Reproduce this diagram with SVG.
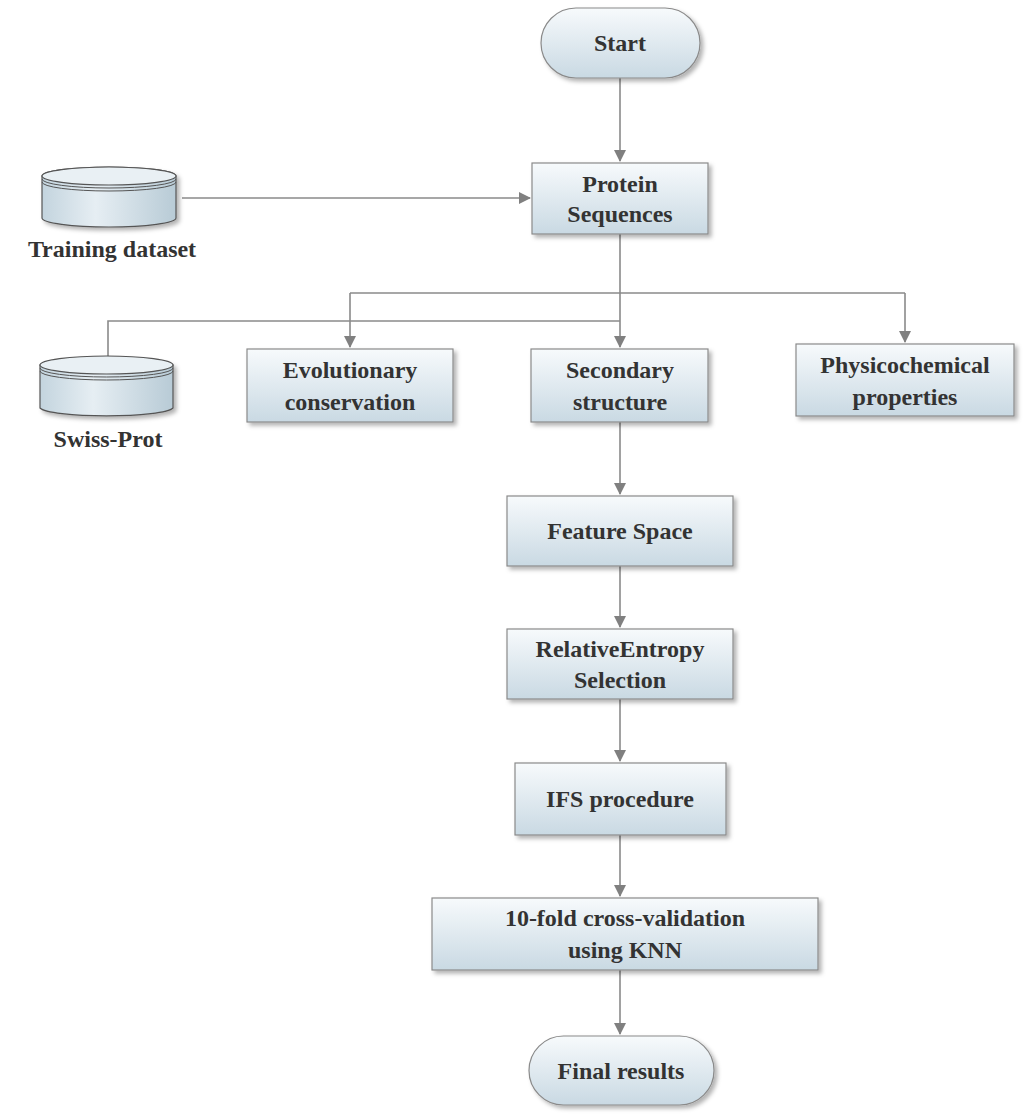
<svg xmlns="http://www.w3.org/2000/svg" width="1024" height="1119" viewBox="0 0 1024 1119">
<defs>
<linearGradient id="g" x1="0" y1="0" x2="0" y2="1"><stop offset="0" stop-color="#f7fafc"/><stop offset="1" stop-color="#c9d9e3"/></linearGradient>
<linearGradient id="cy" x1="0" y1="0" x2="1" y2="0"><stop offset="0" stop-color="#c3d4de"/><stop offset="0.4" stop-color="#e6eef3"/><stop offset="1" stop-color="#b8cbd6"/></linearGradient>
<filter id="sh" x="-10%" y="-10%" width="130%" height="130%"><feDropShadow dx="3" dy="3" stdDeviation="2" flood-color="#000" flood-opacity="0.3"/></filter>
<marker id="a" markerWidth="12" markerHeight="12" refX="11" refY="6" orient="auto" markerUnits="userSpaceOnUse"><path d="M0,0 L12,6 L0,12 z" fill="#808080"/></marker>
<style>
.n{fill:url(#g);stroke:#8a8a8a;stroke-width:1.2;filter:url(#sh)}
.t{font-family:"Liberation Serif",serif;font-weight:bold;font-size:24px;fill:#333;text-anchor:middle}
.c{fill:none;stroke:#8a8a8a;stroke-width:1.6}
.cyl{fill:url(#cy);stroke:#555;stroke-width:1.2;filter:url(#sh)}
</style>
</defs>
<g id="connectors">
<path class="c" d="M620,78 V161" marker-end="url(#a)"/>
<path class="c" d="M182,198 H530" marker-end="url(#a)"/>
<path class="c" d="M620,234 V293"/>
<path class="c" d="M350,293 H905"/>
<path class="c" d="M350,293 V347" marker-end="url(#a)"/>
<path class="c" d="M620,293 V347" marker-end="url(#a)"/>
<path class="c" d="M905,293 V342" marker-end="url(#a)"/>
<path class="c" d="M108,357 V321 H620"/>
<path class="c" d="M620,422 V494" marker-end="url(#a)"/>
<path class="c" d="M620,566 V627" marker-end="url(#a)"/>
<path class="c" d="M620,699 V761" marker-end="url(#a)"/>
<path class="c" d="M620,835 V896" marker-end="url(#a)"/>
<path class="c" d="M620,970 V1034" marker-end="url(#a)"/>
</g>
<g id="start"><rect class="n" x="541" y="8" width="159" height="70" rx="35"/><text class="t" x="620" y="51">Start</text></g>
<g id="training"><path class="cyl" d="M42,176 V218 A67,9 0 0 0 176,218 V176 A67,9 0 0 0 42,176 z"/><ellipse cx="109" cy="176" rx="67" ry="9" fill="#e9f0f4" stroke="#555" stroke-width="1.2"/><path d="M42,179 A67,9 0 0 0 176,179 M42,182 A67,9 0 0 0 176,182" fill="none" stroke="#555" stroke-width="1"/><text class="t" x="112" y="257">Training dataset</text></g>
<g id="protein"><rect class="n" x="532" y="163" width="176" height="71"/><text class="t" x="620" y="192">Protein</text><text class="t" x="620" y="222">Sequences</text></g>
<g id="swiss"><path class="cyl" d="M40,365 V408 A67,9 0 0 0 173,408 V365 A67,9 0 0 0 40,365 z"/><ellipse cx="106.5" cy="365" rx="66.5" ry="9" fill="#e9f0f4" stroke="#555" stroke-width="1.2"/><path d="M40,368 A66.5,9 0 0 0 173,368 M40,371 A66.5,9 0 0 0 173,371" fill="none" stroke="#555" stroke-width="1"/><text class="t" x="108" y="447">Swiss-Prot</text></g>
<g id="evo"><rect class="n" x="247" y="349" width="206" height="73"/><text class="t" x="350" y="378">Evolutionary</text><text class="t" x="350" y="410">conservation</text></g>
<g id="sec"><rect class="n" x="531" y="349" width="177" height="73"/><text class="t" x="620" y="378">Secondary</text><text class="t" x="620" y="410">structure</text></g>
<g id="phys"><rect class="n" x="796" y="344" width="218" height="72"/><text class="t" x="905" y="373">Physicochemical</text><text class="t" x="905" y="405">properties</text></g>
<g id="feature"><rect class="n" x="507" y="496" width="226" height="70"/><text class="t" x="620" y="539">Feature Space</text></g>
<g id="re"><rect class="n" x="507" y="629" width="226" height="70"/><text class="t" x="620" y="657">RelativeEntropy</text><text class="t" x="620" y="688">Selection</text></g>
<g id="ifs"><rect class="n" x="515" y="763" width="211" height="72"/><text class="t" x="620" y="807">IFS procedure</text></g>
<g id="cv"><rect class="n" x="432" y="898" width="386" height="72"/><text class="t" x="625" y="926">10-fold cross-validation</text><text class="t" x="625" y="958">using KNN</text></g>
<g id="final"><rect class="n" x="529" y="1036" width="185" height="69" rx="34.5"/><text class="t" x="621" y="1079">Final results</text></g>
</svg>
